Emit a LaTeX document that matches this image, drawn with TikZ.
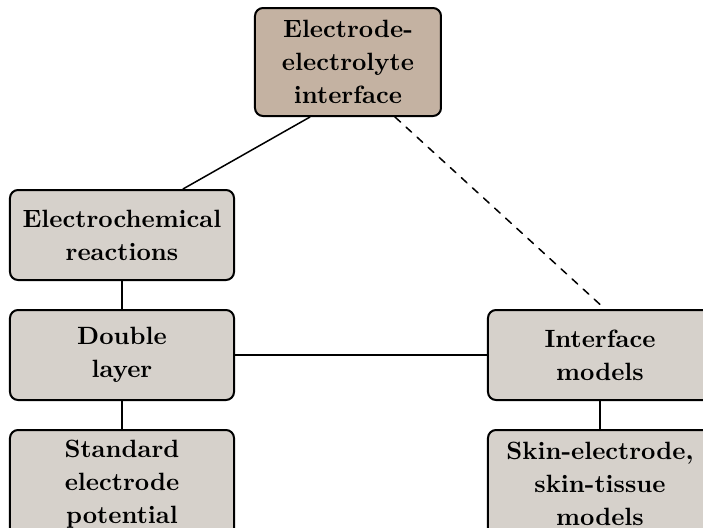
\documentclass[tikz,border=0pt]{standalone}
\usetikzlibrary{calc}
\definecolor{boxtan}{HTML}{C4B2A2}
\definecolor{boxgray}{HTML}{D6D1CB}

\begin{document}
\begin{tikzpicture}[x=0.4pt,y=-0.4pt,line join=round,line cap=round,
    topic/.style={draw,thick,rounded corners=3.2pt,fill=boxgray,align=center,
      minimum width=89.6pt,minimum height=36pt,inner sep=0pt,
      font=\fontsize{10}{13.2}\selectfont\bfseries},
    tallbox/.style={minimum height=43.2pt},
    link/.style={semithick}]
    \useasboundingbox (0,0) rectangle (703,528);
    % top of the tree
    \node[topic,tallbox,fill=boxtan,minimum width=74.4pt] (eei) at (348,62) {Electrode-\\electrolyte\\interface};
    % left branch
    \node[topic] (ecr) at (122,235) {Electrochemical\\reactions};
    \node[topic] (dbl) at (122,355) {Double\\layer};
    \node[topic,tallbox] (sep) at (122,484) {Standard\\electrode\\potential};
    % right branch
    \node[topic] (ifm) at (600,355) {Interface\\models};
    \node[topic,tallbox] (skm) at (600,484) {Skin-electrode,\\skin-tissue\\models};
    \draw[link] ($(eei.south)+(-38,0)$) -- ($(ecr.north)+(61,0)$);
    \draw[link,dashed] ($(eei.south)+(47,0)$) -- ($(ifm.north)+(5,0)$);
    \draw[link] (ecr) -- (dbl);
    \draw[link] (dbl) -- (sep);
    \draw[link] (dbl) -- (ifm);
    \draw[link] (ifm) -- (skm);
\end{tikzpicture}
\end{document}
